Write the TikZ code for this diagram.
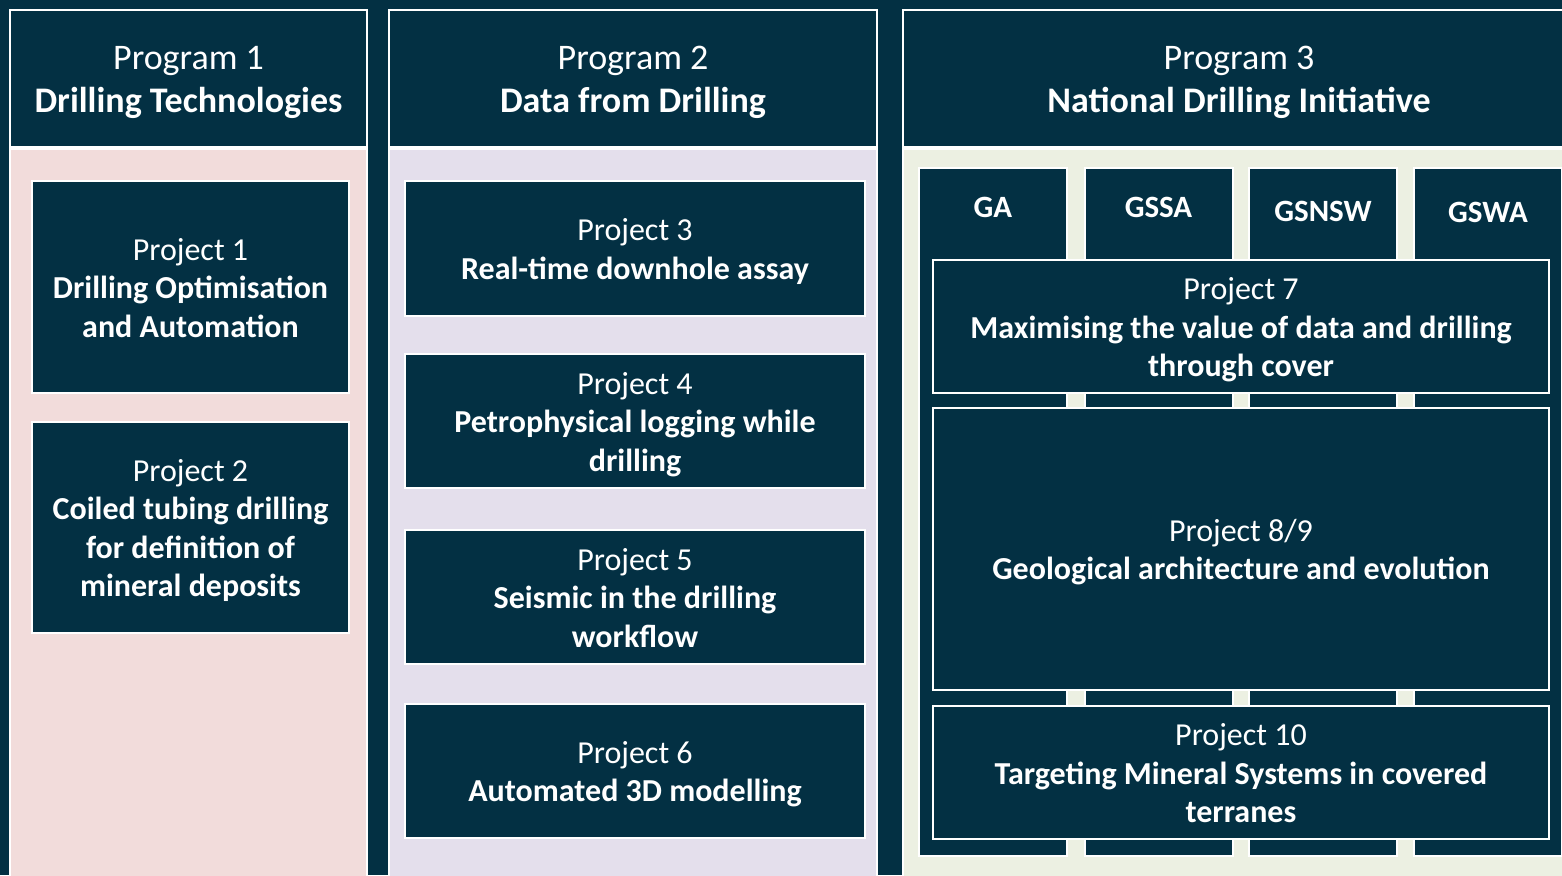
\documentclass[tikz,border=0pt]{standalone}
\usepackage{fontspec}
\setmainfont{Carlito}
\definecolor{navy}{RGB}{3,48,67}
\definecolor{pinkbg}{RGB}{242,220,219}
\definecolor{lavbg}{RGB}{228,223,236}
\definecolor{greenbg}{RGB}{236,240,226}
\newcommand\lnTop{\rule{0pt}{0.97em}}
\newcommand\lnBot{\rule[-0.25em]{0pt}{0.25em}}
\begin{document}
\begin{tikzpicture}[x=1pt,y=-1pt,
  box/.style={rectangle, draw=white, line width=2pt, fill=navy, text=white, inner sep=0pt, align=center},
  hdr/.style={box, font=\fontsize{36}{43}\selectfont},
  proj/.style={box, font=\fontsize{32}{38.5}\selectfont},
  colbody/.style={rectangle, draw=white, line width=2pt, inner sep=0pt},
  orgbox/.style={box, minimum width=148pt, minimum height=688pt},
  lbl/.style={text=white, font=\bfseries\fontsize{31}{37}\selectfont, inner sep=0pt, anchor=base}
]
\useasboundingbox (0,0) rectangle (1562,875);
\clip (0,0) rectangle (1562,875);
\fill[navy] (0,0) rectangle (1562,875);

% column bodies
\node[colbody, fill=pinkbg, minimum width=357pt, minimum height=740pt] (body1) at (188.5,519) {};
\node[colbody, fill=lavbg, minimum width=488pt, minimum height=740pt] (body2) at (633,519) {};
\node[colbody, fill=greenbg, minimum width=672pt, minimum height=740pt] (body3) at (1239,519) {};

% headers
\node[hdr, minimum width=357pt, minimum height=137pt] (h1) at (188.5,78.5) {\lnTop Program 1\\\textbf{Drilling Technologies}\lnBot};
\node[hdr, minimum width=488pt, minimum height=137pt] (h2) at (633,78.5) {\lnTop Program 2\\\textbf{Data from Drilling}\lnBot};
\node[hdr, minimum width=672pt, minimum height=137pt] (h3) at (1239,78.5) {\lnTop Program 3\\\textbf{National Drilling Initiative}\lnBot};

% program 1 projects
\node[proj, minimum width=317pt, minimum height=212pt] (p1) at (190.5,287) {\lnTop Project 1\\\textbf{Drilling Optimisation}\\\textbf{and Automation}\lnBot};
\node[proj, minimum width=317pt, minimum height=211pt] (p2) at (190.5,527.5) {\lnTop Project 2\\\textbf{Coiled tubing drilling}\\\textbf{for definition of}\\\textbf{mineral deposits}\lnBot};

% program 2 projects
\node[proj, minimum width=460pt, minimum height=135pt] (p3) at (635,248.5) {\lnTop Project 3\\\textbf{Real-time downhole assay}\lnBot};
\node[proj, minimum width=460pt, minimum height=134pt] (p4) at (635,421) {\lnTop Project 4\\\textbf{Petrophysical logging while}\\\textbf{drilling}\lnBot};
\node[proj, minimum width=460pt, minimum height=134pt] (p5) at (635,597) {\lnTop Project 5\\\textbf{Seismic in the drilling}\\\textbf{workflow}\lnBot};
\node[proj, minimum width=460pt, minimum height=134pt] (p6) at (635,771) {\lnTop Project 6\\\textbf{Automated 3D modelling}\lnBot};

% program 3 organisations
\node[orgbox] (ga) at (993,512) {};
\node[orgbox] (gssa) at (1158.5,512) {};
\node[orgbox] (gsnsw) at (1323,512) {};
\node[orgbox] (gswa) at (1488,512) {};
\node[lbl] (lga) at ([yshift=-50pt]ga.north) {GA};
\node[lbl] (lgssa) at ([yshift=-50pt]gssa.north) {GSSA};
\node[lbl] (lgsnsw) at ([yshift=-54pt]gsnsw.north) {GSNSW};
\node[lbl] (lgswa) at ([yshift=-55pt]gswa.north) {GSWA};

% program 3 projects
\node[proj, minimum width=616pt, minimum height=133pt] (p7) at (1241,326.5) {\lnTop Project 7\\\textbf{Maximising the value of data and drilling}\\\textbf{through cover}\lnBot};
\node[proj, minimum width=616pt, minimum height=282pt] (p89) at (1241,549) {\lnTop Project 8/9\\\textbf{Geological architecture and evolution}\lnBot};
\node[proj, minimum width=616pt, minimum height=133pt] (p10) at (1241,772.5) {\lnTop Project 10\\\textbf{Targeting Mineral Systems in covered}\\\textbf{terranes}\lnBot};
\end{tikzpicture}
\end{document}
